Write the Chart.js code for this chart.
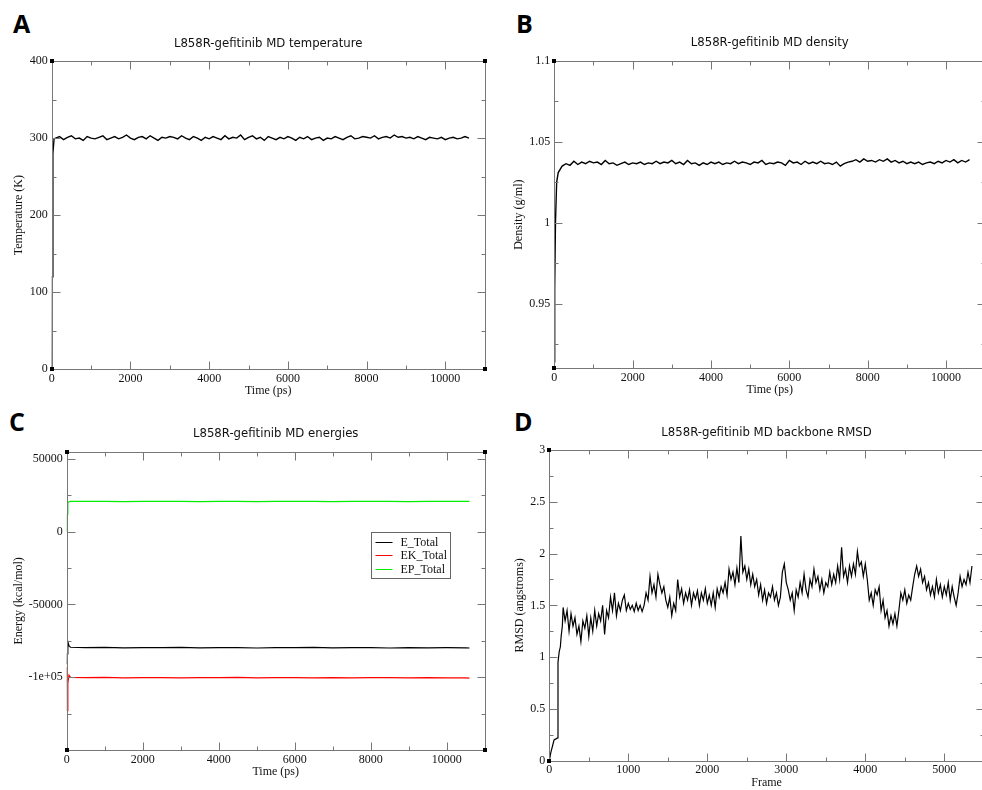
<!DOCTYPE html>
<html>
<head>
<meta charset="utf-8">
<title>L858R-gefitinib MD</title>
<script src="https://cdn.jsdelivr.net/npm/chart.js@4.4.1/dist/chart.umd.min.js"></script>
<style>
  html, body { margin: 0; padding: 0; background: #fff; }
  body { position: relative; width: 982px; height: 790px; overflow: hidden; }
  canvas { position: absolute; }
  .tag { position: absolute; font: 700 25px "Open Sans", "DejaVu Sans", sans-serif; line-height: 1; color: #000; }
</style>
</head>
<body>
<div class="tag" style="left:13px;top:11px">A</div>
<div class="tag" style="left:516px;top:11px">B</div>
<div class="tag" style="left:9px;top:409px">C</div>
<div class="tag" style="left:514px;top:409px">D</div>
<canvas id="tempChart"></canvas>
<canvas id="densChart"></canvas>
<canvas id="energyChart"></canvas>
<canvas id="rmsdChart"></canvas>
<script>
/* ===================================================
   L858R-gefitinib MD — four xmgrace-style panels
   =================================================== */

/* --- Data: time axis shared by temperature & density (ps) --- */
var timePs = [
  0, 10, 30, 60,
  100, 200, 300, 400, 500, 600, 700, 800, 900, 1000,
  1100, 1200, 1300, 1400, 1500, 1600, 1700, 1800, 1900, 2000,
  2100, 2200, 2300, 2400, 2500, 2600, 2700, 2800, 2900, 3000,
  3100, 3200, 3300, 3400, 3500, 3600, 3700, 3800, 3900, 4000,
  4100, 4200, 4300, 4400, 4500, 4600, 4700, 4800, 4900, 5000,
  5100, 5200, 5300, 5400, 5500, 5600, 5700, 5800, 5900, 6000,
  6100, 6200, 6300, 6400, 6500, 6600, 6700, 6800, 6900, 7000,
  7100, 7200, 7300, 7400, 7500, 7600, 7700, 7800, 7900, 8000,
  8100, 8200, 8300, 8400, 8500, 8600, 8700, 8800, 8900, 9000,
  9100, 9200, 9300, 9400, 9500, 9600, 9700, 9800, 9900, 10000,
  10100, 10200, 10300, 10400, 10500, 10600
];

var temperatureK = [
  0, 120, 280, 299,
  300, 302, 298, 301, 303, 299, 300, 297, 302, 300,
  299, 301, 303, 298, 300, 302, 299, 301, 304, 300,
  298, 301, 302, 299, 303, 300, 297, 301, 300, 302,
  301, 299, 303, 300, 298, 302, 300, 297, 301, 299,
  302, 300, 298, 303, 299, 301, 300, 304, 298, 301,
  303, 299, 301, 297, 302, 300, 298, 301, 299, 302,
  300, 297, 301, 299, 302, 298, 300, 301, 297, 300,
  299, 302, 300, 298, 301, 303, 299, 300, 302, 301,
  300, 303, 299, 301, 302, 300, 304, 301, 302, 300,
  301, 299, 302, 300, 298, 301, 300, 299, 301, 298,
  300, 301, 299, 300, 302, 300
];

var densityGml = [
  0.914, 0.96, 1.0, 1.025,
  1.031, 1.035, 1.0365, 1.0355, 1.038, 1.036, 1.0375, 1.0365, 1.038, 1.037,
  1.0375, 1.036, 1.0385, 1.0365, 1.037, 1.0355, 1.0365, 1.0375, 1.036, 1.037,
  1.0365, 1.0375, 1.036, 1.037, 1.0365, 1.038, 1.0365, 1.0375, 1.037, 1.0385,
  1.0365, 1.0375, 1.036, 1.0385, 1.0365, 1.037, 1.0355, 1.037, 1.036, 1.0375,
  1.0365, 1.0375, 1.036, 1.037, 1.0365, 1.038, 1.0365, 1.0375, 1.037, 1.036,
  1.0375, 1.037, 1.0385, 1.036, 1.037, 1.0365, 1.0375, 1.037, 1.0355, 1.0385,
  1.037, 1.0375, 1.036, 1.038, 1.0365, 1.0375, 1.0365, 1.038, 1.0365, 1.037,
  1.036, 1.0375, 1.035, 1.0365, 1.0375, 1.038, 1.039, 1.0375, 1.0395, 1.038,
  1.0385, 1.0375, 1.039, 1.038, 1.0395, 1.0375, 1.0385, 1.037, 1.038, 1.0365,
  1.0375, 1.0365, 1.0375, 1.036, 1.037, 1.0375, 1.0365, 1.038, 1.037, 1.0385,
  1.0375, 1.039, 1.037, 1.0385, 1.0375, 1.039
];

/* --- Data: energies (kcal/mol) --- */
var energyTime = [
  0, 10, 30, 60, 100,
  500, 1000, 1500, 2000, 2500, 3000, 3500, 4000, 4500, 5000, 5500,
  6000, 6500, 7000, 7500, 8000, 8500, 9000, 9500, 10000, 10500,
  10600
];
var eTotal = [
  -91000, -84000, -75500, -78500, -79400,
  -79700, -79500, -79800, -79600, -79700, -79500, -79800, -79600, -79700, -79900, -79600,
  -79700, -79500, -79800, -79600, -79700, -79900, -79600, -79800, -79700, -79800,
  -79900
];
var ekTotal = [
  -93000, -123000, -104000, -98500, -100100,
  -100300, -100100, -100400, -100200, -100300, -100500, -100200, -100300, -100100, -100400, -100300,
  -100200, -100500, -100300, -100400, -100200, -100300, -100500, -100300, -100400, -100500,
  -100600
];
var epTotal = [
  0, 12000, 19800, 20600, 20800,
  20900, 20800, 20700, 20900, 20800, 20800, 20700, 20900, 20800, 20700, 20800,
  20900, 20800, 20700, 20800, 20900, 20800, 20700, 20800, 20900, 20800,
  20800
];
var energyNames = ["E_Total", "EK_Total", "EP_Total"];

/* --- Data: backbone RMSD (angstroms) per frame --- */
var rmsdFrame = [
  0, 20, 60, 105, 110, 125, 140, 150, 165, 175,
  200, 225, 250, 275, 300, 325, 350, 375,
  400, 425, 450, 475, 500, 525, 550, 575,
  600, 625, 650, 675, 700, 725, 750, 775,
  800, 825, 850, 875, 900, 925, 950, 975,
  1000, 1025, 1050, 1075, 1100, 1125, 1150, 1175,
  1200, 1225, 1250, 1275, 1300, 1325, 1350, 1375,
  1400, 1425, 1450, 1475, 1500, 1525, 1550, 1575,
  1600, 1625, 1650, 1675, 1700, 1725, 1750, 1775,
  1800, 1825, 1850, 1875, 1900, 1925, 1950, 1975,
  2000, 2025, 2050, 2075, 2100, 2125, 2150, 2175,
  2200, 2225, 2250, 2275, 2300, 2325, 2350, 2375,
  2400, 2425, 2450, 2475, 2500, 2525, 2550, 2575,
  2600, 2625, 2650, 2675, 2700, 2725, 2750, 2775,
  2800, 2825, 2850, 2875, 2900, 2925, 2950, 2975,
  3000, 3025, 3050, 3075, 3100, 3125, 3150, 3175,
  3200, 3225, 3250, 3275, 3300, 3325, 3350, 3375,
  3400, 3425, 3450, 3475, 3500, 3525, 3550, 3575,
  3600, 3625, 3650, 3675, 3700, 3725, 3750, 3775,
  3800, 3825, 3850, 3875, 3900, 3925, 3950, 3975,
  4000, 4025, 4050, 4075, 4100, 4125, 4150, 4175,
  4200, 4225, 4250, 4275, 4300, 4325, 4350, 4375,
  4400, 4425, 4450, 4475, 4500, 4525, 4550, 4575,
  4600, 4625, 4650, 4675, 4700, 4725, 4750, 4775,
  4800, 4825, 4850, 4875, 4900, 4925, 4950, 4975,
  5000, 5025, 5050, 5075, 5100, 5125, 5150, 5175,
  5200, 5225, 5250, 5275, 5300, 5325, 5350
];
var rmsdValue = [
  0, 0.08, 0.2, 0.22, 0.95, 1.05, 1.1, 1.2, 1.3, 1.48,
  1.35, 1.45, 1.25, 1.42, 1.3, 1.38, 1.22, 1.3,
  1.15, 1.35, 1.28, 1.4, 1.2, 1.38, 1.25, 1.45,
  1.3, 1.42, 1.35, 1.5, 1.22, 1.45, 1.38, 1.58,
  1.45, 1.62, 1.4, 1.52, 1.45, 1.55, 1.6, 1.45,
  1.52, 1.46, 1.5, 1.44, 1.52, 1.45, 1.5, 1.44,
  1.5, 1.62, 1.55, 1.78, 1.62, 1.7, 1.58, 1.8,
  1.7, 1.62, 1.68, 1.55, 1.48, 1.58, 1.4, 1.52,
  1.45, 1.75, 1.58, 1.66, 1.52, 1.62, 1.55, 1.65,
  1.5, 1.62, 1.56, 1.64, 1.5, 1.62, 1.55, 1.66,
  1.52, 1.6, 1.5, 1.62, 1.48, 1.66, 1.58, 1.68,
  1.62, 1.72, 1.6, 1.85, 1.75, 1.82, 1.7, 1.86,
  1.72, 2.17, 1.82, 1.88, 1.75, 1.85, 1.7, 1.8,
  1.68, 1.75, 1.6, 1.7, 1.55, 1.65, 1.52, 1.62,
  1.58, 1.68, 1.55, 1.62, 1.5, 1.58, 1.82, 1.9,
  1.72, 1.65, 1.55, 1.62, 1.45, 1.65, 1.58, 1.72,
  1.62, 1.8, 1.65, 1.58, 1.75, 1.68, 1.85, 1.72,
  1.78, 1.65, 1.75, 1.62, 1.72, 1.68, 1.82, 1.7,
  1.8, 1.72, 1.88, 1.75, 2.06, 1.78, 1.85, 1.72,
  1.88, 1.78, 1.9, 1.8, 2.02, 1.88, 1.92, 1.78,
  1.9, 1.75, 1.55, 1.62, 1.5, 1.65, 1.6, 1.68,
  1.45, 1.55, 1.38, 1.45, 1.3, 1.4, 1.32, 1.42,
  1.3, 1.45, 1.62, 1.55, 1.65, 1.52, 1.6, 1.55,
  1.68, 1.8, 1.88, 1.78, 1.85, 1.72, 1.78, 1.65,
  1.72, 1.6, 1.68, 1.58, 1.75, 1.62, 1.7, 1.58,
  1.68, 1.6, 1.72, 1.55, 1.68, 1.58, 1.5, 1.62,
  1.78, 1.68, 1.75, 1.7, 1.82, 1.72, 1.88
];

/* --- Tick values & labels --- */
var timeTicks = [0, 2000, 4000, 6000, 8000, 10000];
var timeTickLabels = ["0", "2000", "4000", "6000", "8000", "10000"];
var tempTicks = [0, 100, 200, 300, 400];
var tempTickLabels = ["0", "100", "200", "300", "400"];
var densityTicks = [0.95, 1, 1.05, 1.1];
var densityTickLabels = ["0.95", "1", "1.05", "1.1"];
var energyTicks = [-100000, -50000, 0, 50000];
var energyTickLabels = ["-1e+05", "-50000", "0", "50000"];
var frameTicks = [0, 1000, 2000, 3000, 4000, 5000];
var frameTickLabels = ["0", "1000", "2000", "3000", "4000", "5000"];
var rmsdTicks = [0, 0.5, 1, 1.5, 2, 2.5, 3];
var rmsdTickLabels = ["0", "0.5", "1", "1.5", "2", "2.5", "3"];

(function () {
  "use strict";

  /* --- Style constants --- */
  var SERIF = '"Liberation Serif", "Times New Roman", serif';
  var SANS = '"DejaVu Sans Condensed", "DejaVu Sans", sans-serif';
  var FRAME_COLOR = "#777777";
  var TEXT_COLOR = "#111111";
  var LABEL_SIZE = 12;
  var TITLE_SIZE = 13;
  var TICK_LABEL_GAP = 9.5;   // plot bottom -> tick label centre
  var X_TITLE_GAP = 22;       // plot bottom -> axis title centre

  function pairs(xs, ys) {
    return xs.map(function (x, i) {
      return { x: x, y: ys[i] };
    });
  }

  function fixedTicks(values) {
    return function (scale) {
      scale.ticks = values.map(function (v) {
        return { value: v };
      });
    };
  }

  function labelFrom(labels) {
    return function (value, index) {
      return labels[index];
    };
  }

  /* --- xmgrace frame: box, inward ticks on all sides, corner handles, legend --- */
  function px(v) {
    return Math.round(v) + 0.5;
  }

  function drawTicks(ctx, scale, minorStep, area, horizontal) {
    var majors = scale.ticks.map(function (t) { return t.value; });
    var marks = majors.map(function (v) { return { v: v, len: 8 }; });
    var k0 = Math.ceil(scale.min / minorStep - 1e-9);
    for (var k = k0; k * minorStep <= scale.max + 1e-9; k++) {
      var v = Math.round(k * minorStep * 1e6) / 1e6;
      var isMajor = majors.some(function (m) {
        return Math.abs(m - v) < minorStep * 1e-3;
      });
      if (!isMajor) marks.push({ v: v, len: 4 });
    }
    ctx.beginPath();
    marks.forEach(function (m) {
      var p = px(scale.getPixelForValue(m.v));
      if (horizontal) {
        ctx.moveTo(p, area.bottom); ctx.lineTo(p, area.bottom - m.len);
        ctx.moveTo(p, area.top); ctx.lineTo(p, area.top + m.len);
      } else {
        ctx.moveTo(area.left, p); ctx.lineTo(area.left + m.len, p);
        ctx.moveTo(area.right, p); ctx.lineTo(area.right - m.len, p);
      }
    });
    ctx.stroke();
  }

  var graceFrame = {
    id: "graceFrame",
    afterDatasetsDraw: function (chart, args, opts) {
      var ctx = chart.ctx;
      var a = chart.chartArea;
      var area = { left: px(a.left), right: px(a.right), top: px(a.top), bottom: px(a.bottom) };
      ctx.save();
      ctx.strokeStyle = FRAME_COLOR;
      ctx.lineWidth = 1;
      ctx.strokeRect(area.left, area.top, area.right - area.left, area.bottom - area.top);
      drawTicks(ctx, chart.scales.x, opts.xMinor, area, true);
      drawTicks(ctx, chart.scales.y, opts.yMinor, area, false);

      ctx.fillStyle = "#000";
      [[area.left, area.top], [area.left, area.bottom], [area.right, area.top], [area.right, area.bottom]]
        .forEach(function (c) {
          ctx.fillRect(c[0] - 2.5, c[1] - 2.5, 4, 4);
        });

      if (opts.legend) {
        var lg = opts.legend;
        var lx = px(chart.scales.x.getPixelForValue(lg.x));
        var ly = px(chart.scales.y.getPixelForValue(lg.y));
        ctx.fillStyle = "#fff";
        ctx.fillRect(lx, ly, lg.w, lg.h);
        ctx.strokeStyle = "#666";
        ctx.lineWidth = 1;
        ctx.strokeRect(lx, ly, lg.w, lg.h);
        ctx.font = LABEL_SIZE + "px " + SERIF;
        ctx.textBaseline = "middle";
        ctx.textAlign = "left";
        chart.data.datasets.forEach(function (ds, i) {
          var ry = Math.round(ly + lg.firstRow + i * lg.rowGap);
          ctx.fillStyle = ds.borderColor;
          ctx.fillRect(lx + 4, ry, 17, 1);
          ctx.fillStyle = TEXT_COLOR;
          ctx.fillText(ds.label, lx + 29, ry + 0.5);
        });
      }
      ctx.restore();
    },
  };

  /* --- Panel factory --- */
  function makePanel(p) {
    var canvas = document.getElementById(p.id);
    canvas.width = p.box.w;
    canvas.height = p.box.h;
    canvas.style.left = p.box.x + "px";
    canvas.style.top = p.box.y + "px";
    canvas.style.width = p.box.w + "px";
    canvas.style.height = p.box.h + "px";

    var yWidth = p.plot.left - p.box.x;
    var titleHeight = p.plot.top - p.box.y;
    var xHeight = p.box.y + p.box.h - p.plot.bottom;
    var padRight = p.box.x + p.box.w - p.plot.right;
    var titleLine = TITLE_SIZE * 1.2;
    var labelLine = LABEL_SIZE * 1.2;
    var titlePadTop = p.titleY - p.box.y - titleLine / 2;

    return new Chart(canvas, {
      type: "line",
      data: { datasets: p.datasets },
      options: {
        responsive: false,
        animation: false,
        events: [],
        layout: { padding: { left: 0, right: padRight, top: 0, bottom: 0 } },
        plugins: {
          legend: { display: false },
          tooltip: { enabled: false },
          title: {
            display: true,
            text: p.title,
            fullSize: false,
            color: TEXT_COLOR,
            font: { family: SANS, size: TITLE_SIZE, weight: "normal", lineHeight: 1.2 },
            padding: { top: titlePadTop, bottom: titleHeight - titlePadTop - titleLine },
          },
          graceFrame: { xMinor: p.xMinor, yMinor: p.yMinor, legend: p.legend || null },
        },
        scales: {
          x: {
            type: "linear",
            min: p.xMin,
            max: p.xMax,
            grid: { display: false, drawTicks: false },
            border: { display: false },
            afterBuildTicks: fixedTicks(p.xTicks),
            afterFit: function (scale) { scale.height = xHeight; },
            ticks: {
              autoSkip: false,
              maxRotation: 0,
              padding: TICK_LABEL_GAP - labelLine / 2,
              color: TEXT_COLOR,
              font: { family: SERIF, size: LABEL_SIZE, lineHeight: 1.2 },
              callback: labelFrom(p.xLabels),
            },
            title: {
              display: true,
              text: p.xTitle,
              color: TEXT_COLOR,
              font: { family: SERIF, size: LABEL_SIZE, lineHeight: 1.2 },
              padding: { top: 0, bottom: xHeight - X_TITLE_GAP - labelLine / 2 },
            },
          },
          y: {
            type: "linear",
            min: p.yMin,
            max: p.yMax,
            grid: { display: false, drawTicks: false },
            border: { display: false },
            afterBuildTicks: fixedTicks(p.yTicks),
            afterFit: function (scale) { scale.width = yWidth; },
            ticks: {
              autoSkip: false,
              padding: 4,
              color: TEXT_COLOR,
              font: { family: SERIF, size: LABEL_SIZE, lineHeight: 1.2 },
              callback: labelFrom(p.yLabels),
            },
            title: {
              display: true,
              text: p.yTitle,
              color: TEXT_COLOR,
              font: { family: SERIF, size: LABEL_SIZE, lineHeight: 1.2 },
              padding: { top: p.yTitleX - p.box.x - labelLine / 2, bottom: 0 },
            },
          },
        },
      },
      plugins: [graceFrame],
    });
  }

  function lineSet(label, data, color, width) {
    return {
      label: label,
      data: data,
      borderColor: color,
      borderWidth: width,
      pointRadius: 0,
      tension: 0,
      fill: false,
    };
  }

  /* --- A: temperature --- */
  makePanel({
    id: "tempChart",
    box: { x: 0, y: 0, w: 491, h: 402 },
    plot: { left: 51.7, top: 61, right: 484.7, bottom: 369.3 },
    titleY: 44,
    title: "L858R-gefitinib MD temperature",
    xMin: 0, xMax: 11000, xMinor: 1000, xTicks: timeTicks, xLabels: timeTickLabels,
    yMin: 0, yMax: 400, yMinor: 50, yTicks: tempTicks, yLabels: tempTickLabels,
    xTitle: "Time (ps)",
    yTitle: "Temperature (K)",
    yTitleX: 19,
    datasets: [lineSet("Temperature", pairs(timePs, temperatureK), "#000", 1.4)],
  });

  /* --- B: density --- */
  makePanel({
    id: "densChart",
    box: { x: 491, y: 0, w: 505, h: 402 },
    plot: { left: 554.3, top: 61, right: 985.2, bottom: 368.3 },
    titleY: 43,
    title: "L858R-gefitinib MD density",
    xMin: 0, xMax: 11000, xMinor: 1000, xTicks: timeTicks, xLabels: timeTickLabels,
    yMin: 0.91, yMax: 1.1, yMinor: 0.025, yTicks: densityTicks, yLabels: densityTickLabels,
    xTitle: "Time (ps)",
    yTitle: "Density (g/ml)",
    yTitleX: 519,
    datasets: [lineSet("Density", pairs(timePs, densityGml), "#000", 1.4)],
  });

  /* --- C: energies --- */
  makePanel({
    id: "energyChart",
    box: { x: 0, y: 395, w: 491, h: 395 },
    plot: { left: 66.7, top: 451.7, right: 484.7, bottom: 750 },
    titleY: 434,
    title: "L858R-gefitinib MD energies",
    xMin: 0, xMax: 11000, xMinor: 1000, xTicks: timeTicks, xLabels: timeTickLabels,
    yMin: -150000, yMax: 55000, yMinor: 25000, yTicks: energyTicks, yLabels: energyTickLabels,
    xTitle: "Time (ps)",
    yTitle: "Energy (kcal/mol)",
    yTitleX: 19,
    legend: { x: 8000, y: 0, w: 79, h: 46, firstRow: 9, rowGap: 13.5 },
    datasets: [
      lineSet(energyNames[0], pairs(energyTime, eTotal), "#000000", 1.2),
      lineSet(energyNames[1], pairs(energyTime, ekTotal), "#ff0000", 1.2),
      lineSet(energyNames[2], pairs(energyTime, epTotal), "#00ee00", 1.2),
    ],
  });

  /* --- D: backbone RMSD --- */
  makePanel({
    id: "rmsdChart",
    box: { x: 491, y: 395, w: 505, h: 395 },
    plot: { left: 549.3, top: 450, right: 983.8, bottom: 760.7 },
    titleY: 433,
    title: "L858R-gefitinib MD backbone RMSD",
    xMin: 0, xMax: 5500, xMinor: 500, xTicks: frameTicks, xLabels: frameTickLabels,
    yMin: 0, yMax: 3, yMinor: 0.25, yTicks: rmsdTicks, yLabels: rmsdTickLabels,
    xTitle: "Frame",
    yTitle: "RMSD (angstroms)",
    yTitleX: 520,
    datasets: [lineSet("RMSD", pairs(rmsdFrame, rmsdValue), "#000", 1.2)],
  });
})();
</script>
</body>
</html>
